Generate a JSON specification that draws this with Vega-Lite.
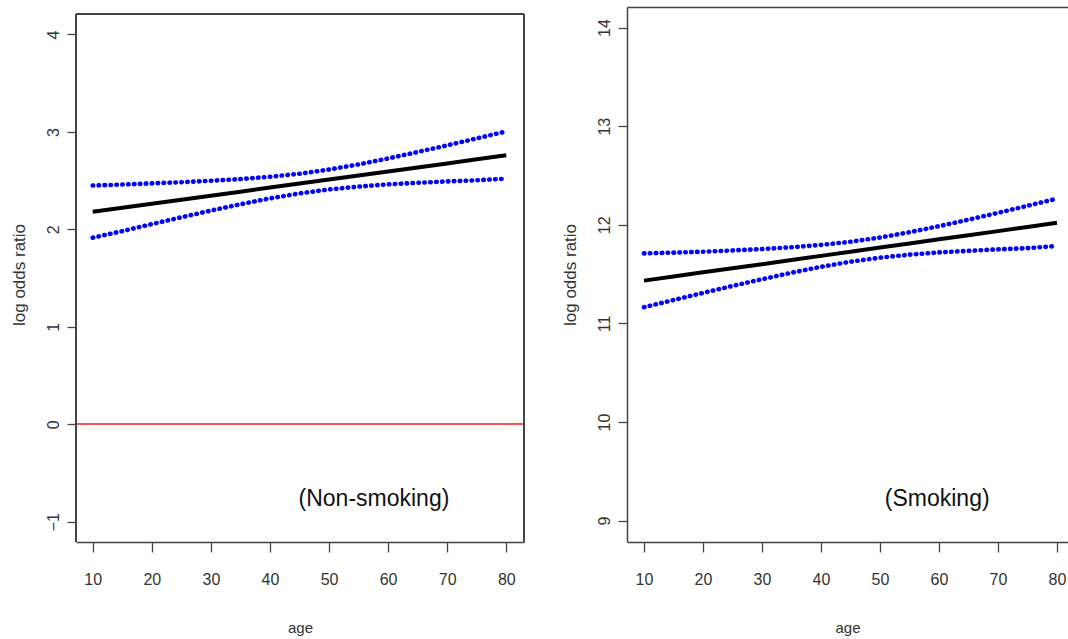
{
  "$schema": "https://vega.github.io/schema/vega-lite/v6.json",
  "padding": {"left": 10, "top": 7, "right": 0, "bottom": 4},
  "autosize": {"type": "pad"},
  "background": "white",
  "config": {
    "view": {"stroke": null},
    "font": "Liberation Sans",
    "axis": {"grid": false, "domainColor": "#444", "domainWidth": 1.5, "tickColor": "#444", "tickWidth": 1.3, "labelColor": "#333", "titleColor": "#333", "titleFontWeight": "normal", "labelFont": "Liberation Sans", "titleFont": "Liberation Sans"}
  },
  "datasets": {
    "nonsmoking": [
      {"age": 10, "fit": 2.180, "upper": 2.450, "lower": 1.915},
      {"age": 15, "fit": 2.221, "upper": 2.460, "lower": 1.982},
      {"age": 20, "fit": 2.263, "upper": 2.472, "lower": 2.054},
      {"age": 25, "fit": 2.304, "upper": 2.484, "lower": 2.124},
      {"age": 30, "fit": 2.346, "upper": 2.499, "lower": 2.193},
      {"age": 35, "fit": 2.387, "upper": 2.516, "lower": 2.258},
      {"age": 40, "fit": 2.429, "upper": 2.540, "lower": 2.318},
      {"age": 45, "fit": 2.470, "upper": 2.571, "lower": 2.369},
      {"age": 50, "fit": 2.512, "upper": 2.614, "lower": 2.410},
      {"age": 55, "fit": 2.553, "upper": 2.667, "lower": 2.439},
      {"age": 60, "fit": 2.595, "upper": 2.728, "lower": 2.462},
      {"age": 65, "fit": 2.636, "upper": 2.794, "lower": 2.478},
      {"age": 70, "fit": 2.677, "upper": 2.862, "lower": 2.492},
      {"age": 75, "fit": 2.719, "upper": 2.934, "lower": 2.504},
      {"age": 80, "fit": 2.760, "upper": 3.005, "lower": 2.520}
    ],
    "smoking": [
      {"age": 10, "fit": 11.434, "upper": 11.710, "lower": 11.164},
      {"age": 15, "fit": 11.476, "upper": 11.718, "lower": 11.237},
      {"age": 20, "fit": 11.518, "upper": 11.727, "lower": 11.309},
      {"age": 25, "fit": 11.560, "upper": 11.740, "lower": 11.380},
      {"age": 30, "fit": 11.601, "upper": 11.754, "lower": 11.448},
      {"age": 35, "fit": 11.643, "upper": 11.772, "lower": 11.514},
      {"age": 40, "fit": 11.685, "upper": 11.796, "lower": 11.574},
      {"age": 45, "fit": 11.727, "upper": 11.828, "lower": 11.626},
      {"age": 50, "fit": 11.769, "upper": 11.871, "lower": 11.667},
      {"age": 55, "fit": 11.811, "upper": 11.925, "lower": 11.697},
      {"age": 60, "fit": 11.853, "upper": 11.986, "lower": 11.720},
      {"age": 65, "fit": 11.894, "upper": 12.052, "lower": 11.736},
      {"age": 70, "fit": 11.936, "upper": 12.121, "lower": 11.751},
      {"age": 75, "fit": 11.978, "upper": 12.193, "lower": 11.763},
      {"age": 80, "fit": 12.020, "upper": 12.265, "lower": 11.785}
    ],
    "labels": [
      {"panel": "Non-smoking", "label": "(Non-smoking)", "age": 57.6, "value": -0.765},
      {"panel": "Smoking", "label": "(Smoking)", "age": 59.7, "value": 9.22}
    ]
  },
  "spacing": 36,
  "hconcat": [
    {
      "width": 448,
      "height": 535,
      "data": {"name": "nonsmoking"},
      "layer": [
        {
          "mark": {"type": "line", "color": "#0000ff", "strokeWidth": 4.6, "strokeCap": "round", "strokeDash": [0.5, 5.41]},
          "encoding": {
            "x": {"field": "age", "type": "quantitative", "scale": {"domain": [7.17, 83.0], "nice": false, "zero": false},
              "axis": {"orient": "bottom", "values": [10, 20, 30, 40, 50, 60, 70, 80], "tickSize": 10, "labelPadding": 19, "labelFontSize": 16, "title": "age", "titleFontSize": 15, "titlePadding": 33}},
            "y": {"field": "upper", "type": "quantitative", "scale": {"domain": [-1.208, 4.282], "nice": false, "zero": false},
              "axis": {"orient": "left", "domain": false, "values": [-1, 0, 1, 2, 3, 4], "tickSize": 9, "labelAngle": -90, "labelAlign": "center", "labelBaseline": "bottom", "labelPadding": 6, "labelFontSize": 16, "title": "log odds ratio", "titleFontSize": 17, "titlePadding": 17}}
          }
        },
        {
          "mark": {"type": "line", "color": "#0000ff", "strokeWidth": 4.6, "strokeCap": "round", "strokeDash": [0.5, 5.41]},
          "encoding": {
            "x": {"field": "age", "type": "quantitative", "axis": null},
            "y": {"field": "lower", "type": "quantitative", "axis": null}
          }
        },
        {
          "mark": {"type": "line", "color": "#000000", "strokeWidth": 4},
          "encoding": {
            "x": {"field": "age", "type": "quantitative", "axis": null},
            "y": {"field": "fit", "type": "quantitative", "axis": null}
          }
        },
        {
          "mark": {"type": "rule", "color": "#ff5555", "strokeWidth": 1.5},
          "encoding": {"y": {"datum": 0, "type": "quantitative", "axis": null}}
        },
        {
          "mark": {"type": "rule", "color": "#444", "strokeWidth": 1.5},
          "encoding": {"y": {"datum": 4.21, "type": "quantitative", "axis": null}}
        },
        {
          "mark": {"type": "rule", "color": "#444", "strokeWidth": 1.5},
          "encoding": {
            "x": {"datum": 7.17, "type": "quantitative", "axis": null},
            "y": {"datum": -1.208, "type": "quantitative", "axis": null},
            "y2": {"datum": 4.21}
          }
        },
        {
          "mark": {"type": "rule", "color": "#444", "strokeWidth": 1.5},
          "encoding": {
            "x": {"datum": 83.0, "type": "quantitative", "axis": null},
            "y": {"datum": -1.208, "type": "quantitative", "axis": null},
            "y2": {"datum": 4.21}
          }
        },
        {
          "data": {"name": "labels"},
          "transform": [{"filter": "datum.panel === 'Non-smoking'"}],
          "mark": {"type": "text", "font": "Liberation Sans", "fontSize": 23, "color": "#111", "align": "center", "baseline": "middle"},
          "encoding": {
            "x": {"field": "age", "type": "quantitative", "axis": null},
            "y": {"field": "value", "type": "quantitative", "axis": null},
            "text": {"field": "label"}
          }
        }
      ],
      "resolve": {"axis": {"x": "independent", "y": "independent"}}
    },
    {
      "width": 441,
      "height": 535,
      "data": {"name": "smoking"},
      "layer": [
        {
          "mark": {"type": "line", "color": "#0000ff", "strokeWidth": 4.6, "strokeCap": "round", "strokeDash": [0.5, 5.4]},
          "encoding": {
            "x": {"field": "age", "type": "quantitative", "scale": {"domain": [7.12, 81.87], "nice": false, "zero": false},
              "axis": {"orient": "bottom", "values": [10, 20, 30, 40, 50, 60, 70, 80], "tickSize": 10, "labelPadding": 19, "labelFontSize": 16, "title": "age", "titleFontSize": 15, "titlePadding": 33}},
            "y": {"field": "upper", "type": "quantitative", "scale": {"domain": [8.783, 14.209], "nice": false, "zero": false},
              "axis": {"orient": "left", "values": [9, 10, 11, 12, 13, 14], "tickSize": 9, "labelAngle": -90, "labelAlign": "center", "labelBaseline": "bottom", "labelPadding": 6, "labelFontSize": 16, "title": "log odds ratio", "titleFontSize": 17, "titlePadding": 17}}
          }
        },
        {
          "mark": {"type": "line", "color": "#0000ff", "strokeWidth": 4.6, "strokeCap": "round", "strokeDash": [0.5, 5.4]},
          "encoding": {
            "x": {"field": "age", "type": "quantitative", "axis": {"orient": "top", "ticks": false, "labels": false, "title": null}},
            "y": {"field": "lower", "type": "quantitative", "axis": null}
          }
        },
        {
          "mark": {"type": "line", "color": "#000000", "strokeWidth": 4},
          "encoding": {
            "x": {"field": "age", "type": "quantitative", "axis": null},
            "y": {"field": "fit", "type": "quantitative", "axis": null}
          }
        },
        {
          "data": {"name": "labels"},
          "transform": [{"filter": "datum.panel === 'Smoking'"}],
          "mark": {"type": "text", "font": "Liberation Sans", "fontSize": 23, "color": "#111", "align": "center", "baseline": "middle"},
          "encoding": {
            "x": {"field": "age", "type": "quantitative", "axis": null},
            "y": {"field": "value", "type": "quantitative", "axis": null},
            "text": {"field": "label"}
          }
        }
      ],
      "resolve": {"axis": {"x": "independent", "y": "independent"}}
    }
  ]
}
